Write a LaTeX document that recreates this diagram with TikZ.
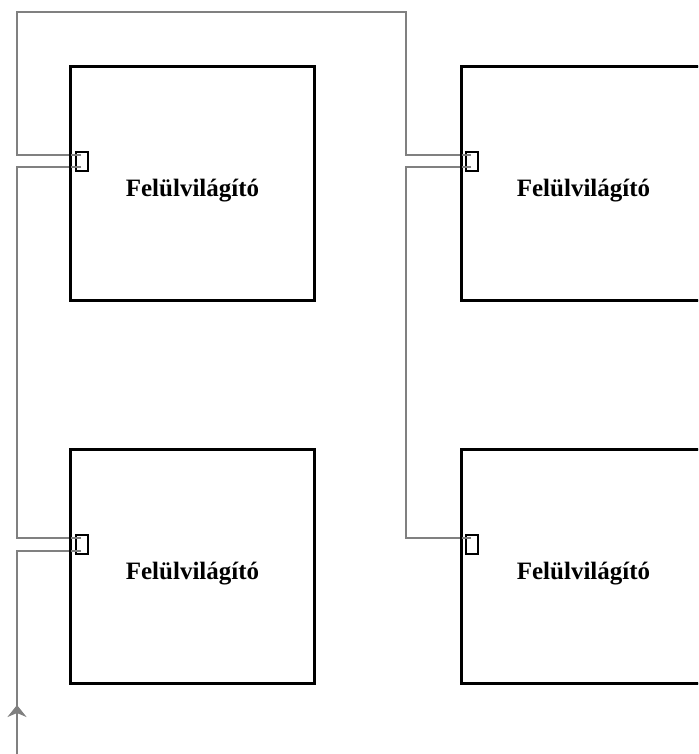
\documentclass[tikz,border=0pt]{standalone}
\usepackage{fontspec}
\setmainfont{Liberation Serif}
\usetikzlibrary{arrows.meta,calc}
\begin{document}
\begin{tikzpicture}[x=1pt,y=-1pt,
  roombox/.style={draw=black,line width=2pt,minimum width=243pt,minimum height=233pt,inner sep=0pt,
    label={[font=\fontsize{25}{28}\selectfont\bfseries,yshift=-7pt]center:Felülvilágító}},
  socket/.style={draw=black,line width=1.1pt,fill=none,minimum width=12pt,minimum height=19pt,inner sep=0pt},
  wire/.style={draw=black!50,line width=2.3pt}]
\useasboundingbox (0,0) rectangle (698,754);
\clip (0,0) rectangle (698,754);
% boxes
\node[roombox] (b1) at (192.5,183.5) {};
\node[roombox] (b2) at (583.5,183.5) {};
\node[roombox] (b3) at (192.5,566.5) {};
\node[roombox] (b4) at (583.5,566.5) {};
% sockets
\node[socket] (s1) at (82,161.5) {};
\node[socket] (s2) at (472,161.5) {};
\node[socket] (s3) at (82,544.5) {};
\node[socket] (s4) at (472,544.5) {};
% wire points
\coordinate (s1a) at ($(s1.center)+(-1,-6.5)$);
\coordinate (s1b) at ($(s1.center)+(-1,5.5)$);
\coordinate (s2a) at ($(s2.center)+(-1,-6.5)$);
\coordinate (s2b) at ($(s2.center)+(-1,5.5)$);
\coordinate (s3a) at ($(s3.center)+(-1,-6.5)$);
\coordinate (s3b) at ($(s3.center)+(-1,6.5)$);
\coordinate (s4a) at ($(s4.center)+(-1,-6.5)$);
\coordinate (c1) at (17,12);
\coordinate (c2) at (406,12);
\coordinate (c3) at (17,350);
\coordinate (c4) at (406,350);
\coordinate (c5) at (17,760);
\coordinate (c6) at (17,705);
% wires
\draw[wire] (s1a) -| (c1) -| (c2) |- (s2a);
\draw[wire] (s1b) -| (c3) |- (s3a);
\draw[wire] (s2b) -| (c4) |- (s4a);
\draw[wire] (s3b) -| (c5);
\draw[wire,-{Stealth[length=12pt,width=19pt,inset=4pt]}] (c5) -- (c6);
% box borders over wires
\draw[black,line width=2pt] (b1.north west) rectangle (b1.south east);
\draw[black,line width=2pt] (b3.north west) rectangle (b3.south east);
\draw[black,line width=2pt] (b2.north west) rectangle (b2.south east);
\draw[black,line width=2pt] (b4.north west) rectangle (b4.south east);
\end{tikzpicture}
\end{document}
